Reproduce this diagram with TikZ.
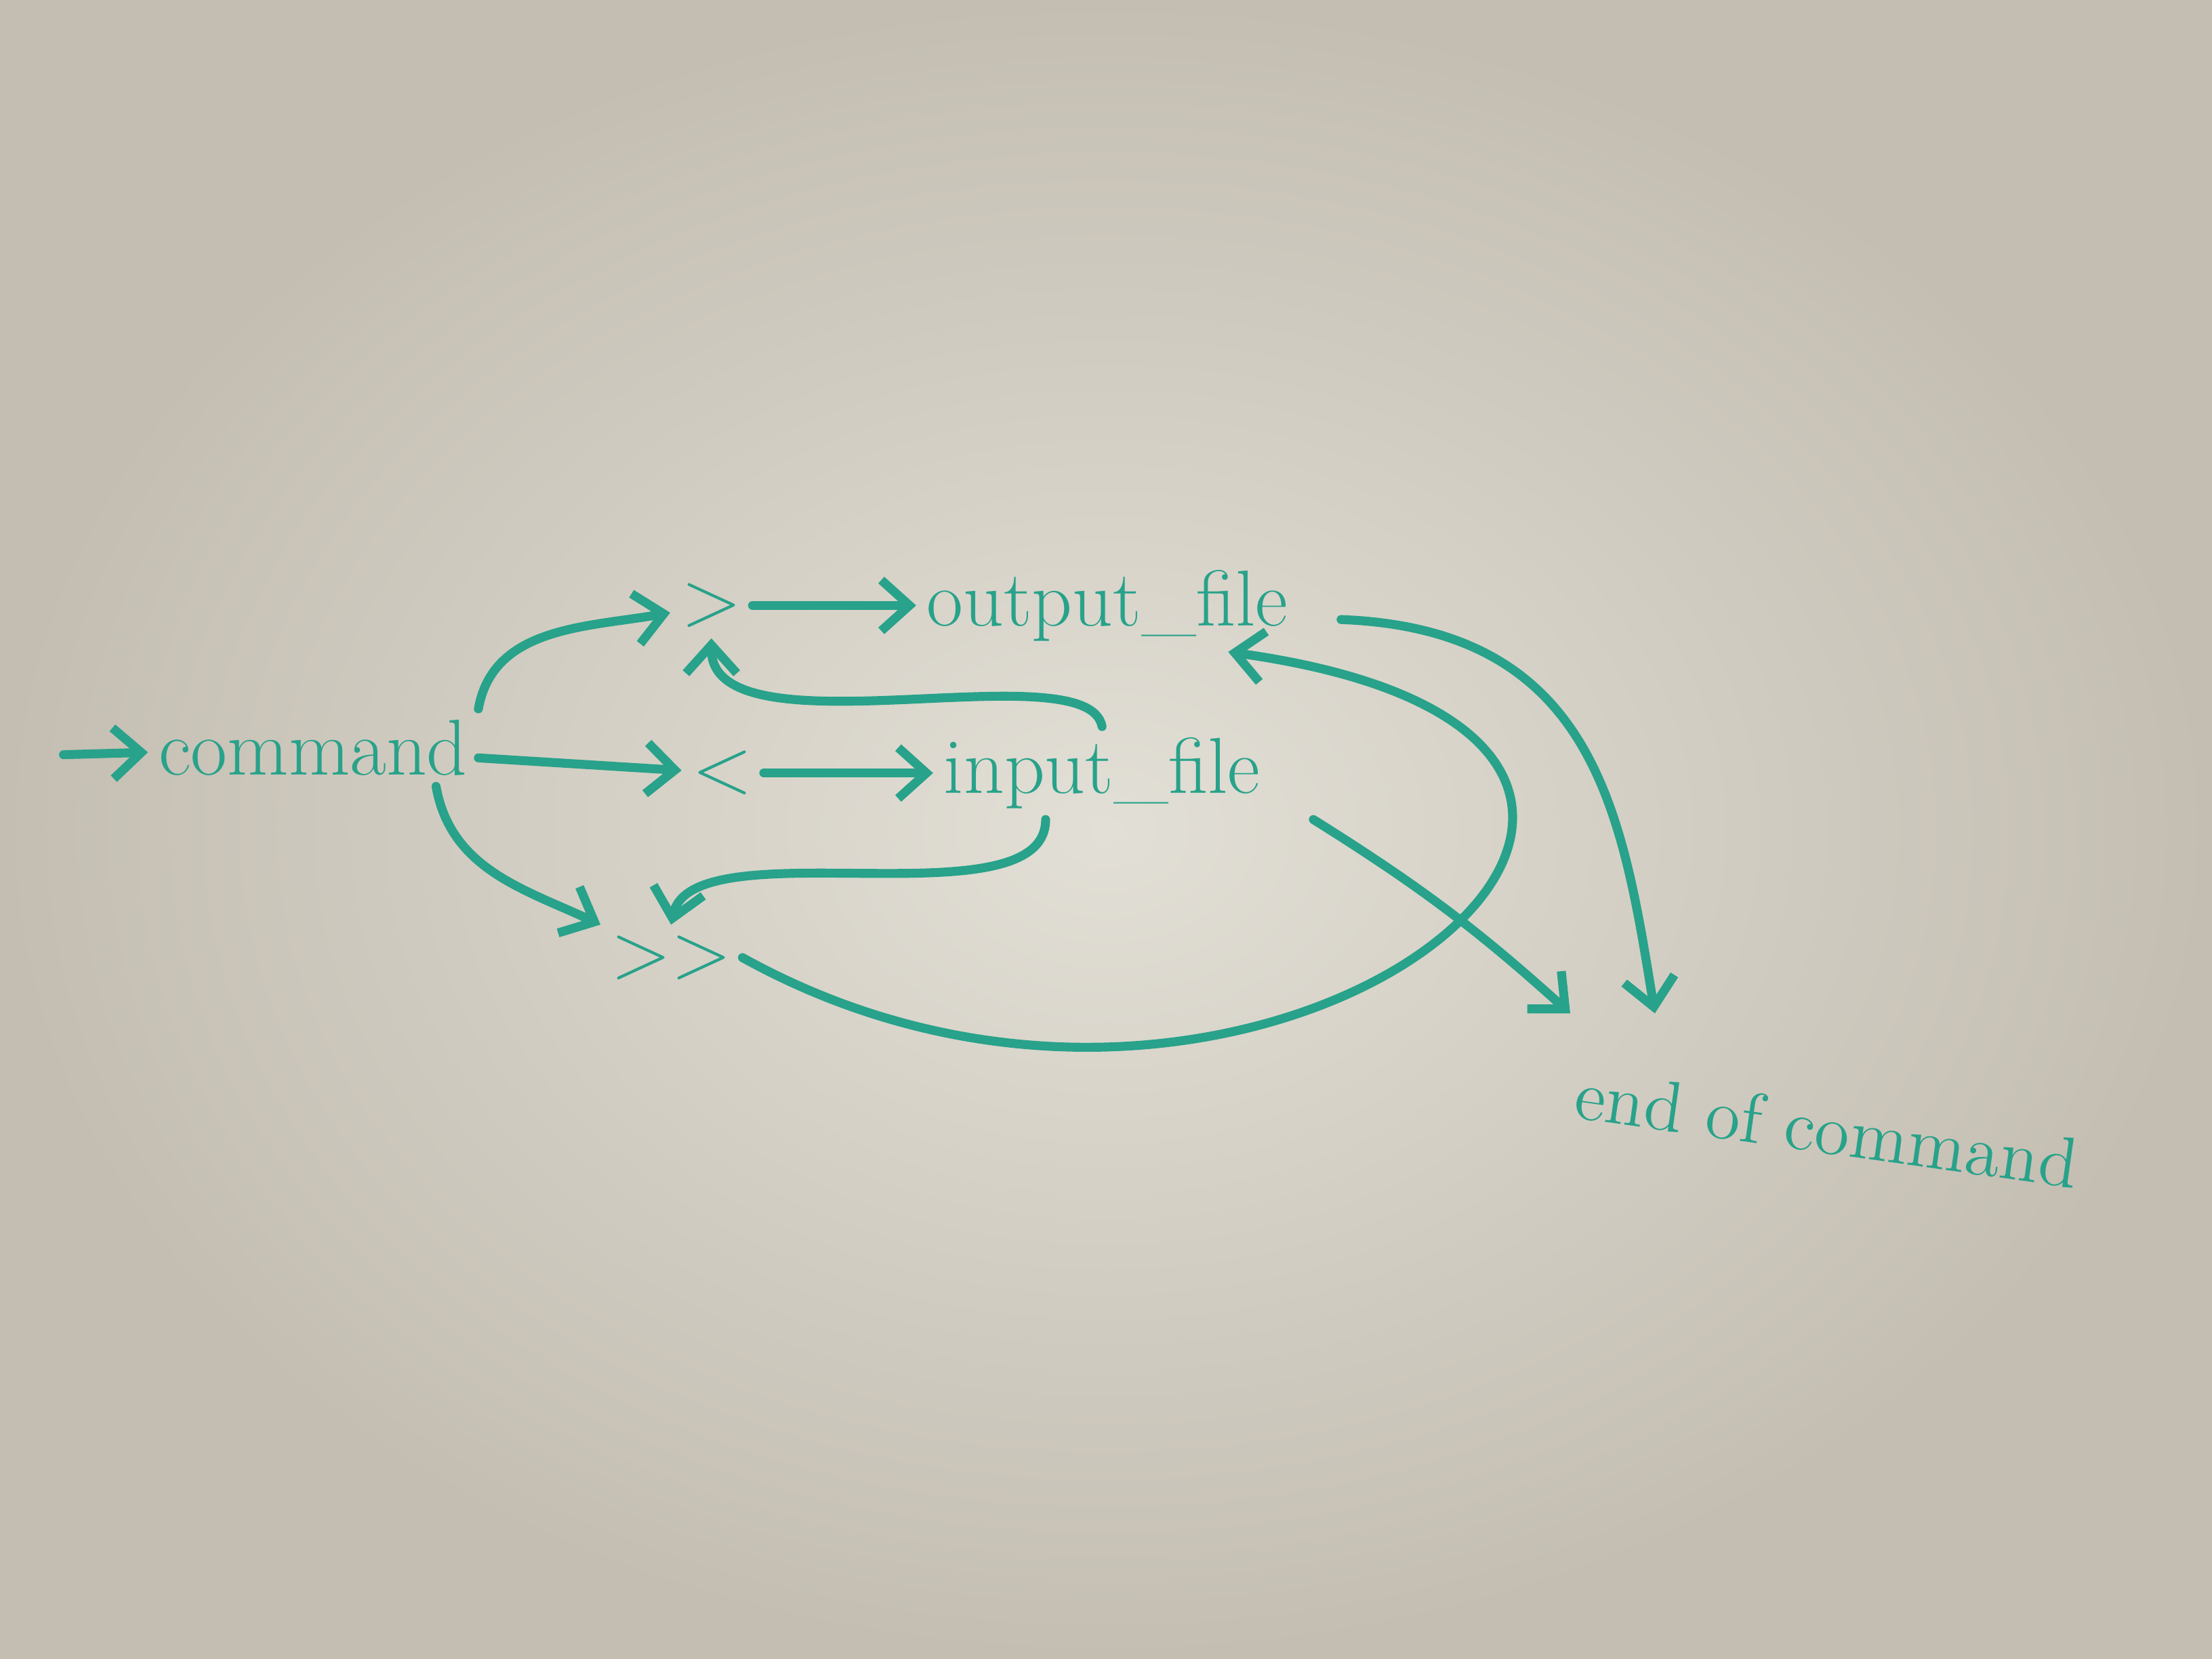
\documentclass[tikz,border=0pt]{standalone}
\usepackage{tikz}
\usetikzlibrary{arrows.meta,positioning}
\definecolor{marker}{RGB}{40,162,138}
\definecolor{boardin}{RGB}{226,223,214}
\definecolor{boardout}{RGB}{196,190,178}

\begin{document}
\begin{tikzpicture}[every node/.style={font=\fontsize{16}{19}\selectfont,text=marker,inner sep=2pt},
  >={Straight Barb[length=2mm,width=3.6mm]},
  ln/.style={draw=marker,line width=1.8pt,line cap=round,->}]
\shade[inner color=boardin,outer color=boardout] (0,0) rectangle (15.68,11.76);
\useasboundingbox (0,0) rectangle (15.68,11.76);
\coordinate (s) at (0.45,6.41);
\node (cmd) at (2.22,6.46) {command};
\node[above right=5mm and 13.6mm of cmd] (gt) {>};
\node[right=14.4mm of cmd,yshift=-1.8mm] (lt) {<};
\node[below right=9.8mm and 8.6mm of cmd] (app) {>{}>};
\node[right=11.6mm of gt] (out) {output\_file};
\node[right=12mm of lt] (inp) {input\_file};
\node[font=\Large,rotate=-8] (end) at (12.95,3.76) {end of command};
\draw[ln] (s) -- (cmd);
\draw[ln] (cmd.north east) to[out=80,in=190] (gt);
\draw[ln] (cmd) -- (lt);
\draw[ln] ([xshift=-3mm]cmd.south east) to[out=-80,in=155] (app);
\draw[ln] (gt) -- (out);
\draw[ln] (lt) -- (inp);
\draw[ln] (inp.north) .. controls +(-0.1,0.55) and +(0,-0.85) .. (gt.south);
\draw[ln] ([xshift=-4mm]inp.south) .. controls +(0,-0.75) and +(0.15,0.7) .. (app.north);
\draw[ln] (app.east) .. controls (9.0,2.9) and (13.3,6.5) .. ([xshift=-5mm]out.south east);
\draw[ln] ([xshift=3mm,yshift=-1mm]out.east) .. controls (11.3,7.3) and (11.5,6.0) .. ([xshift=6mm,yshift=3mm]end.north west);
\draw[ln] ([xshift=3mm]inp.south east) to[bend left=5] ([yshift=3mm]end.north west);
\end{tikzpicture}
\end{document}
